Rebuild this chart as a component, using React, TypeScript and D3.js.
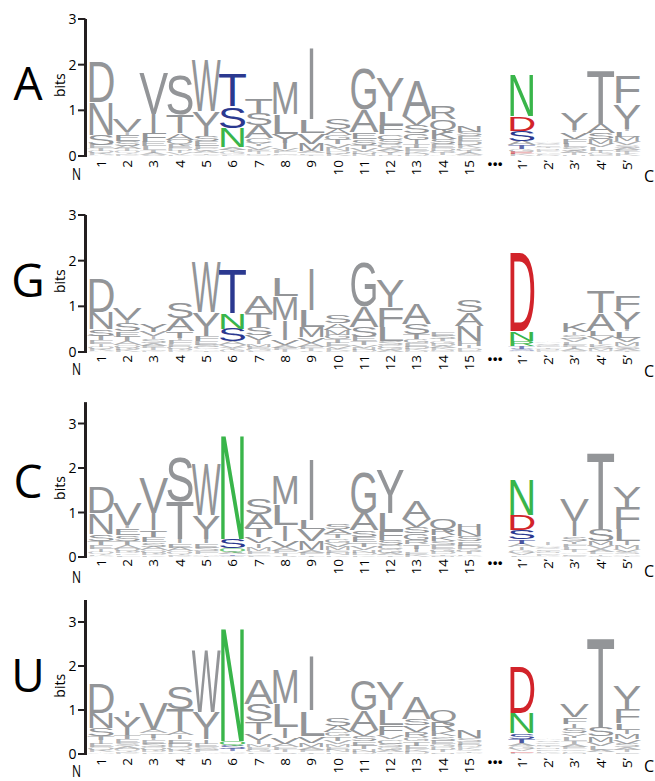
import React from 'react';
import * as d3 from 'd3';

type Stack = [string, number][];

// sequence positions along the x axis (column 16 is the gap)
const positions = ['1', '2', '3', '4', '5', '6', '7', '8', '9', '10', '11', '12', '13', '14', '15', '...', '1’', '2’', '3’', '4’', '5’'];
const panelNames = ['A', 'G', 'C', 'U'];
const coloredPositions = ['6', '1’'];

// letter stacks per column, listed top to bottom, heights in bits
const logoA: Stack[] = [
  [['D', .9], ['N', .72], ['S', .22], ['E', .07], ['T', .06], ['Q', .05], ['K', .04], ['A', .03]],
  [['V', .3], ['I', .06], ['E', .14], ['S', .1], ['A', .07], ['T', .05], ['Q', .04], ['D', .03], ['K', .03]],
  [['V', .92], ['I', .42], ['F', .2], ['E', .1], ['L', .08], ['T', .06], ['A', .04], ['S', .03]],
  [['S', .87], ['T', .41], ['A', .15], ['Q', .1], ['E', .08], ['D', .06], ['I', .05], ['V', .04], ['K', .03]],
  [['W', 1.17], ['Y', .54], ['S', .12], ['E', .1], ['F', .07], ['C', .05], ['A', .04], ['T', .03], ['V', .03]],
  [['T', .72], ['S', .47], ['N', .42], ['A', .06], ['Y', .05], ['G', .04], ['V', .03], ['L', .02]],
  [['T', .36], ['S', .25], ['A', .28], ['C', .1], ['Y', .08], ['V', .07], ['E', .05], ['I', .04], ['M', .03], ['G', .02]],
  [['M', .73], ['L', .42], ['Y', .2], ['I', .13], ['V', .06], ['F', .04], ['E', .03], ['A', .03]],
  [['I', 1.6], ['L', .3], ['V', .23], ['M', .16], ['A', .05], ['F', .03], ['T', .03]],
  [['S', .22], ['A', .13], ['G', .1], ['T', .1], ['V', .08], ['N', .07], ['D', .06], ['K', .05]],
  [['G', .9], ['A', .5], ['E', .15], ['S', .12], ['T', .09], ['V', .07], ['D', .05], ['N', .04]],
  [['Y', .74], ['L', .3], ['F', .2], ['C', .12], ['S', .1], ['G', .08], ['A', .06], ['V', .05], ['T', .04], ['N', .03]],
  [['A', .78], ['V', .2], ['S', .18], ['G', .14], ['I', .1], ['T', .08], ['E', .07], ['K', .06], ['D', .05]],
  [['R', .3], ['Q', .24], ['K', .2], ['S', .12], ['E', .08], ['D', .06], ['G', .05], ['T', .04], ['A', .03]],
  [['N', .14], ['S', .1], ['E', .1], ['D', .08], ['K', .07], ['G', .06], ['T', .05], ['A', .04], ['Q', .03]],
  [],
  [['N', .92], ['D', .32], ['S', .22], ['A', .1], ['T', .08], ['G', .06], ['E', .05], ['K', .04]],
  [['A', .03], ['S', .03], ['G', .03], ['E', .03], ['T', .03], ['N', .03], ['D', .03], ['K', .03], ['V', .03], ['L', .03], ['R', .02]],
  [['Y', .37], ['I', .06], ['V', .15], ['F', .1], ['L', .08], ['S', .07], ['A', .05], ['T', .04], ['H', .03]],
  [['T', 1.18], ['A', .2], ['S', .14], ['M', .1], ['V', .08], ['L', .07], ['I', .05], ['G', .04], ['E', .03]],
  [['F', .6], ['Y', .56], ['I', .06], ['L', .12], ['M', .1], ['V', .08], ['S', .06], ['A', .05], ['E', .05], ['T', .04], ['K', .04]],
];

const logoG: Stack[] = [
  [['D', .75], ['N', .38], ['S', .14], ['T', .1], ['E', .08], ['I', .06], ['Q', .05], ['K', .04], ['A', .03]],
  [['V', .26], ['I', .08], ['S', .16], ['E', .12], ['T', .1], ['A', .08], ['Q', .06], ['D', .05], ['K', .04]],
  [['Y', .16], ['V', .1], ['I', .06], ['S', .08], ['A', .06], ['E', .05], ['T', .04], ['Q', .03], ['K', .02]],
  [['S', .35], ['A', .28], ['T', .15], ['I', .05], ['F', .08], ['E', .06], ['Q', .05], ['D', .04], ['K', .03]],
  [['W', 1.12], ['Y', .52], ['F', .12], ['E', .08], ['S', .06], ['C', .04], ['A', .03], ['T', .03]],
  [['T', 1.0], ['N', .35], ['S', .28], ['A', .08], ['V', .06], ['Y', .05], ['G', .04]],
  [['A', .38], ['T', .32], ['S', .16], ['V', .12], ['I', .08], ['M', .06], ['E', .05], ['G', .04], ['L', .03]],
  [['L', .4], ['M', .53], ['I', .42], ['V', .12], ['A', .06], ['F', .05], ['T', .04]],
  [['I', .92], ['L', .37], ['M', .23], ['V', .12], ['A', .08], ['F', .05], ['T', .04], ['S', .03]],
  [['S', .18], ['A', .15], ['M', .1], ['G', .1], ['T', .08], ['E', .07], ['V', .06], ['K', .04], ['D', .03]],
  [['G', 1.0], ['A', .45], ['S', .22], ['E', .1], ['T', .08], ['V', .06], ['N', .05], ['D', .04]],
  [['Y', .6], ['F', .44], ['L', .32], ['S', .08], ['C', .06], ['G', .05], ['A', .04]],
  [['A', .45], ['S', .22], ['T', .12], ['G', .09], ['E', .07], ['D', .05], ['K', .04], ['N', .03]],
  [['E', .08], ['S', .07], ['T', .06], ['G', .05], ['D', .05], ['A', .04], ['K', .04], ['N', .03], ['Q', .02]],
  [['S', .27], ['A', .3], ['N', .34], ['H', .1], ['I', .06], ['D', .05], ['E', .03]],
  [],
  [['D', 1.78], ['N', .2], ['R', .12], ['T', .06], ['S', .04], ['A', .03]],
  [['A', .03], ['S', .03], ['G', .03], ['E', .03], ['T', .03], ['N', .03], ['D', .02], ['K', .02]],
  [['K', .2], ['I', .06], ['S', .08], ['V', .07], ['L', .06], ['E', .05], ['T', .04], ['A', .04], ['G', .03]],
  [['T', .5], ['A', .38], ['L', .12], ['V', .1], ['I', .08], ['K', .06], ['S', .05], ['M', .04], ['G', .02]],
  [['F', .34], ['Y', .38], ['I', .06], ['L', .14], ['V', .1], ['M', .08], ['S', .06], ['A', .04], ['T', .03]],
];

const logoC: Stack[] = [
  [['D', .6], ['N', .48], ['S', .14], ['T', .1], ['E', .08], ['I', .07], ['Q', .05], ['K', .04], ['A', .03]],
  [['V', .5], ['I', .08], ['E', .16], ['S', .12], ['T', .1], ['A', .08], ['Q', .06], ['D', .05], ['K', .04], ['L', .04]],
  [['V', .8], ['I', .4], ['T', .15], ['E', .12], ['S', .1], ['A', .08], ['Q', .06], ['D', .05], ['K', .04]],
  [['S', 1.02], ['T', .85], ['I', .1], ['E', .1], ['A', .08], ['Q', .06], ['D', .04], ['K', .03]],
  [['W', 1.18], ['Y', .54], ['I', .1], ['E', .1], ['S', .08], ['F', .06], ['A', .04], ['T', .03]],
  [['N', 2.38], ['S', .2], ['Q', .08], ['A', .05], ['T', .04], ['G', .03]],
  [['S', .35], ['A', .32], ['T', .2], ['V', .14], ['I', .1], ['M', .08], ['E', .06], ['G', .04], ['L', .03]],
  [['M', .65], ['L', .47], ['I', .35], ['V', .15], ['A', .08], ['F', .06], ['T', .05], ['S', .03]],
  [['I', 1.4], ['L', .2], ['V', .27], ['M', .22], ['A', .06], ['F', .05], ['T', .04]],
  [['S', .13], ['A', .12], ['T', .1], ['G', .1], ['V', .09], ['M', .08], ['E', .06], ['N', .05], ['K', .04]],
  [['G', .92], ['A', .4], ['S', .15], ['E', .12], ['T', .1], ['V', .08], ['N', .06], ['D', .05], ['K', .04]],
  [['Y', 1.0], ['L', .4], ['F', .2], ['S', .12], ['C', .1], ['G', .08], ['A', .05], ['T', .04]],
  [['A', .4], ['V', .17], ['S', .15], ['G', .14], ['R', .1], ['T', .1], ['I', .08], ['E', .06], ['K', .05]],
  [['Q', .23], ['R', .15], ['K', .12], ['S', .1], ['E', .08], ['G', .07], ['D', .05], ['T', .04], ['N', .03]],
  [['H', .16], ['N', .14], ['S', .12], ['E', .1], ['D', .08], ['G', .06], ['T', .05], ['K', .03], ['A', .03]],
  [],
  [['N', .8], ['D', .35], ['S', .2], ['T', .1], ['A', .08], ['I', .07], ['G', .06], ['V', .05], ['L', .04]],
  [['I', .05], ['A', .03], ['S', .03], ['G', .03], ['E', .03], ['T', .03], ['N', .03], ['D', .03], ['K', .03], ['V', .02]],
  [['V', .5], ['I', .35], ['S', .1], ['Y', .08], ['F', .07], ['L', .06], ['T', .05], ['A', .04], ['E', .04], ['G', .03]],
  [['T', 1.76], ['S', .28], ['M', .1], ['V', .08], ['A', .06], ['L', .05], ['I', .04], ['G', .03]],
  [['Y', .47], ['F', .5], ['L', .26], ['I', .1], ['M', .08], ['V', .07], ['S', .05], ['A', .04], ['T', .03]],
];

const logoU: Stack[] = [
  [['D', .7], ['N', .36], ['S', .17], ['T', .1], ['I', .08], ['E', .08], ['Q', .06], ['K', .05], ['A', .04]],
  [['I', .15], ['Y', .42], ['T', .1], ['E', .08], ['S', .07], ['A', .06], ['Q', .05], ['D', .04], ['K', .03]],
  [['V', .62], ['A', .08], ['T', .1], ['I', .06], ['E', .08], ['S', .08], ['Q', .06], ['D', .05], ['K', .04]],
  [['S', .5], ['T', .5], ['A', .1], ['I', .1], ['E', .1], ['D', .08], ['Q', .06], ['K', .05], ['N', .04]],
  [['W', 1.45], ['Y', .62], ['I', .1], ['E', .08], ['S', .06], ['F', .05], ['A', .04]],
  [['N', 2.62], ['Q', .1], ['S', .08], ['T', .05], ['A', .04], ['V', .03]],
  [['A', .58], ['S', .4], ['T', .28], ['V', .14], ['I', .1], ['M', .07], ['E', .06], ['G', .05], ['L', .04]],
  [['M', .78], ['L', .54], ['I', .24], ['V', .14], ['A', .08], ['F', .06], ['T', .05], ['S', .04]],
  [['I', 1.28], ['L', .58], ['V', .16], ['M', .1], ['A', .06], ['F', .05], ['T', .04]],
  [['S', .18], ['A', .14], ['G', .1], ['T', .1], ['V', .08], ['M', .07], ['E', .06], ['N', .05], ['K', .04]],
  [['G', .7], ['A', .44], ['V', .14], ['S', .12], ['E', .1], ['T', .08], ['N', .06], ['D', .05]],
  [['Y', .65], ['L', .36], ['F', .22], ['V', .1], ['C', .1], ['S', .08], ['G', .06], ['A', .05], ['T', .04]],
  [['A', .5], ['S', .14], ['V', .14], ['R', .12], ['G', .1], ['T', .1], ['E', .08], ['K', .06], ['D', .05]],
  [['Q', .28], ['R', .2], ['K', .12], ['S', .1], ['E', .08], ['G', .07], ['D', .06], ['T', .05], ['N', .04]],
  [['N', .18], ['S', .08], ['E', .07], ['D', .06], ['K', .05], ['G', .04], ['T', .03], ['A', .03]],
  [],
  [['D', 1.1], ['N', .47], ['S', .12], ['T', .1], ['A', .07], ['G', .06], ['V', .05], ['E', .04], ['K', .03]],
  [['A', .04], ['S', .04], ['G', .04], ['E', .04], ['T', .04], ['N', .04], ['D', .04], ['K', .04], ['V', .03]],
  [['V', .3], ['F', .14], ['I', .1], ['S', .12], ['Y', .1], ['L', .08], ['T', .07], ['A', .06], ['E', .05], ['G', .04], ['K', .04], ['M', .03]],
  [['T', 2.08], ['S', .22], ['M', .12], ['V', .1], ['L', .08], ['A', .06], ['I', .04]],
  [['Y', .55], ['F', .32], ['L', .16], ['I', .1], ['M', .12], ['V', .1], ['S', .08], ['A', .06], ['T', .05], ['E', .04]],
];

const logos = [logoA, logoG, logoC, logoU];

const GRAY = '#939598';
const letterColors: Record<string, string> = {
  T: '#2b3990', S: '#2b3990',
  N: '#39b54a', Q: '#39b54a', R: '#39b54a',
  D: '#d2232a', E: '#d2232a',
};

// pixel layout of each panel
const layout = [
  { y0: 156, y3: 19, top: 3, labelTop: 160, nBase: 180, cBase: 182, nameBase: 100 },
  { y0: 352, y3: 215, top: 3, labelTop: 355, nBase: 375, cBase: 377, nameBase: 297 },
  { y0: 557, y3: 423.5, top: 3.48, labelTop: 559, nBase: 583, cBase: 577, nameBase: 498 },
  { y0: 754, y3: 622, top: 3.5, labelTop: 758, nBase: 777, cBase: 772, nameBase: 692 },
];

const CAP = 0.716; // cap height of Liberation Sans, in em
const LOGO_FONT = "'Liberation Sans', Arial, sans-serif";
const TEXT_FONT = "'Open Sans', sans-serif";

const x = d3.scaleBand<string>().domain(positions).range([87.85, 640.15]);

function Panel({ idx }: { idx: number }) {
  const cfg = layout[idx];
  const stacks = logos[idx];
  const y = d3.scaleLinear().domain([0, 3]).range([cfg.y0, cfg.y3]);
  const bw = x.bandwidth();

  const letters: React.ReactNode[] = [];
  positions.forEach((p, ci) => {
    const stack = stacks[ci];
    let acc = 0;
    const colored = coloredPositions.includes(p);
    stack.slice().reverse().forEach(([ch, h], li) => {
      const yb = y(acc);
      const px = yb - y(acc + h);
      acc += h;
      const fs = px / CAP;
      const cx = (x(p) as number) + bw / 2;
      const tw = ch === 'I' ? 10 : bw * 1.1;
      const fill = colored ? (letterColors[ch] || GRAY) : GRAY;
      // tiny letters come out faded in the original
      const op = Math.min(1, 0.3 + px / 8);
      letters.push(
        <text key={`${ci}-${li}`} x={cx - tw / 2} y={yb} fontSize={fs} textLength={tw}
          lengthAdjust="spacingAndGlyphs" fill={fill} fillOpacity={op} fontFamily={LOGO_FONT}>{ch}</text>
      );
    });
  });

  const ticks = d3.range(0, 4);
  return (
    <g>
      <text x={28} y={cfg.nameBase} fontSize={46} textAnchor="middle" fontFamily={TEXT_FONT}>{panelNames[idx]}</text>
      <text transform={`translate(65, ${y(1.55)}) rotate(-90)`} fontSize={14} textAnchor="middle" fontFamily={TEXT_FONT}>bits</text>
      {letters}
      <line x1={85.5} x2={85.5} y1={y(0) + 1} y2={y(cfg.top)} stroke="#231f20" strokeWidth={3} />
      {ticks.map(t => (
        <g key={t}>
          <line x1={78} x2={85.5} y1={y(t)} y2={y(t)} stroke="#231f20" strokeWidth={2} />
          <text x={76.5} y={y(t)} dy="0.36em" fontSize={14} textAnchor="end" fontFamily={TEXT_FONT}>{t}</text>
        </g>
      ))}
      {positions.map(p => {
        const cx = (x(p) as number) + bw / 2;
        if (p === '...') {
          return <text key={p} x={cx} y={cfg.labelTop + 7.5} fontSize={12.5} letterSpacing={0.8} textAnchor="middle" fontFamily={LOGO_FONT} fontWeight="bold">•••</text>;
        }
        return (
          <text key={p} transform={`translate(${cx + 4.8}, ${cfg.labelTop}) rotate(-90)`} fontSize={13.5}
            textAnchor="end" fontFamily={TEXT_FONT}>{p}</text>
        );
      })}
      <text x={72} y={cfg.nBase} fontSize={16} textLength={9} lengthAdjust="spacingAndGlyphs" fontFamily={TEXT_FONT}>N</text>
      <text x={644} y={cfg.cBase} fontSize={16} fontFamily={TEXT_FONT}>C</text>
    </g>
  );
}

export default function App() {
  return (
    <svg width={655} height={781} style={{ position: 'absolute', left: 0, top: 0, background: '#fff' }}>
      {panelNames.map((n, i) => <Panel key={n} idx={i} />)}
    </svg>
  );
}
